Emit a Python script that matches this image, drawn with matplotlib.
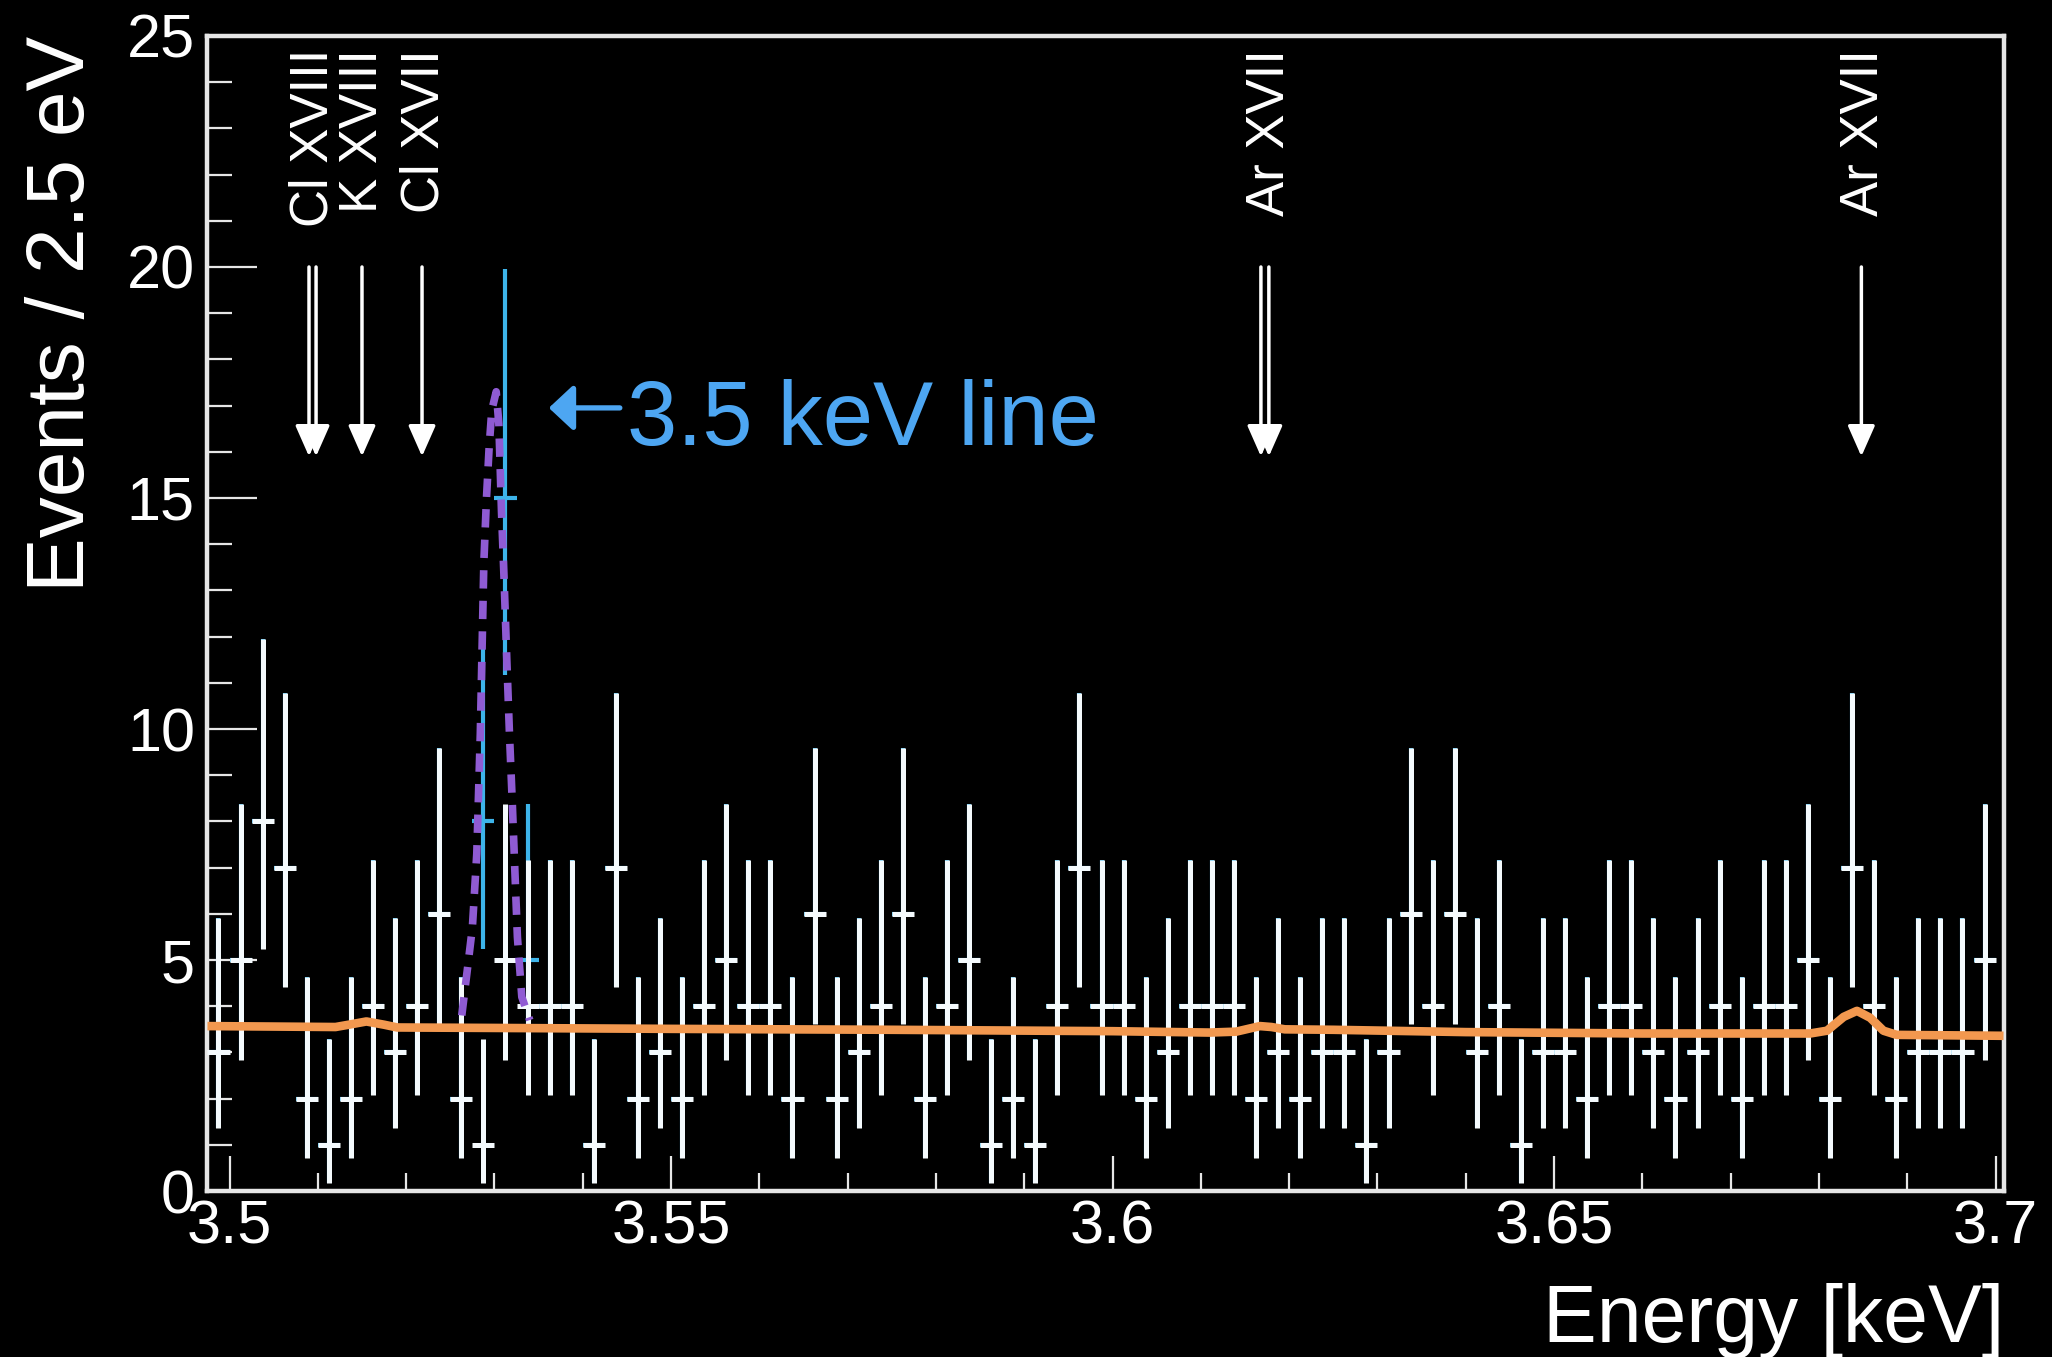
import math
import numpy as np
import matplotlib
matplotlib.use("Agg")
import matplotlib.pyplot as plt
from matplotlib.ticker import MultipleLocator, FormatStrFormatter

plt.rcParams['font.family'] = ['Liberation Sans', 'DejaVu Sans']

# ---------------- data ----------------
bin_low = 3.4975          # keV, lower edge of the first bin
bin_width = 0.0025        # keV (2.5 eV)
counts = [3, 5, 8, 7, 2, 1, 2, 4, 3, 4,
          6, 2, 1, 5, 4, 4, 4, 1, 7, 2,
          3, 2, 4, 5, 4, 4, 2, 6, 2, 3,
          4, 6, 2, 4, 5, 1, 2, 1, 4, 7,
          4, 4, 2, 3, 4, 4, 4, 2, 3, 2,
          3, 3, 1, 3, 6, 4, 6, 3, 4, 1,
          3, 3, 2, 4, 4, 3, 2, 3, 4, 2,
          4, 4, 5, 2, 7, 4, 2, 3, 3, 3,
          5]
# bins where the highlighted (cyan) histogram differs from the data
cyan_bins = [12, 13, 14]
cyan_counts = [8, 15, 5]

# continuum + line model (orange)
model_x = [3.4975, 3.505, 3.512, 3.5135, 3.5155, 3.5175, 3.519, 3.530, 3.550,
           3.575, 3.600, 3.611, 3.614, 3.6167, 3.6180, 3.6195, 3.625, 3.640,
           3.660, 3.679, 3.6809, 3.6828, 3.6843, 3.6858, 3.6873, 3.6888, 3.7009]
model_y = [3.57, 3.56, 3.55, 3.60, 3.67, 3.60, 3.54, 3.53, 3.51,
           3.49, 3.46, 3.43, 3.45, 3.57, 3.55, 3.50, 3.49, 3.44,
           3.41, 3.41, 3.47, 3.77, 3.90, 3.75, 3.47, 3.38, 3.36]

# 3.5 keV line model (purple dashed)
line_x = [3.5263, 3.5270, 3.5275, 3.5280, 3.5284, 3.5288, 3.5291, 3.5294,
          3.5297, 3.5302, 3.5305, 3.5308, 3.5311, 3.5314, 3.5317, 3.5320,
          3.5323, 3.5326, 3.5331, 3.5340]
line_y = [3.8, 4.9, 5.7, 7.3, 9.9, 13.6, 15.0, 16.1,
          16.9, 17.3, 16.6, 14.7, 13.2, 11.5, 9.9, 8.5,
          7.0, 5.5, 4.2, 3.7]

# known emission lines (arrows)
arrow_x = [3.5090, 3.5098, 3.5150, 3.5218, 3.6168, 3.6177, 3.6848]
label_text = ['Cl XVIII', 'K XVIII', 'Cl XVII', 'Ar XVII', 'Ar XVII']
label_x = [3.5095, 3.5151, 3.5221, 3.6178, 3.6851]

# ---------------- helpers ----------------
def pois_cdf(k, mu):
    s, term = 0.0, math.exp(-mu)
    for i in range(k + 1):
        s += term
        term *= mu / (i + 1)
    return s

def garwood(n, alpha=0.158655):
    def bis(f, a, b):
        for _ in range(80):
            m = 0.5 * (a + b)
            if f(m) > 0:
                a = m
            else:
                b = m
        return 0.5 * (a + b)
    lo = 0.0 if n == 0 else bis(lambda mu: pois_cdf(n - 1, mu) - (1 - alpha), 0.0, n)
    hi = bis(lambda mu: pois_cdf(n, mu) - alpha, float(n), n + 10 * math.sqrt(n + 1) + 10)
    return lo, hi

counts = np.array(counts)
centers = bin_low + bin_width * (np.arange(len(counts)) + 0.5)
cyan = counts.copy()
for b, v in zip(cyan_bins, cyan_counts):
    cyan[b] = v

def errs(vals):
    lo, hi = [], []
    for n in vals:
        l, h = garwood(int(n))
        lo.append(n - l)
        hi.append(h - n)
    return np.array([lo, hi])

# ---------------- figure ----------------
fig = plt.figure(figsize=(20.52, 13.57), dpi=100, facecolor='black')
ax = fig.add_axes([0.1011, 0.1223, 0.9766 - 0.1011, 0.9735 - 0.1223])
ax.set_facecolor('black')

ax.errorbar(centers, cyan, xerr=bin_width / 2, yerr=errs(cyan), fmt='none',
            ecolor='#3db4ea', elinewidth=3.0, capsize=0, zorder=2)
ax.errorbar(centers, counts, xerr=bin_width / 2, yerr=errs(counts), fmt='none',
            ecolor='#f4fafd', elinewidth=3.6, capsize=0, zorder=3)
ax.plot(model_x, model_y, color='#f2984f', lw=6.2, solid_capstyle='butt', zorder=4)
ax.plot(line_x, line_y, color='#8f5bd3', lw=5.5, dashes=(2.4, 1.6), zorder=5)

for x in arrow_x:
    ax.annotate('', xy=(x, 15.9), xytext=(x, 20.0),
                arrowprops=dict(arrowstyle='-|>,head_length=0.95,head_width=0.42',
                                color='white', lw=2.5, shrinkA=0, shrinkB=0,
                                mutation_scale=20), zorder=6)
for t, x in zip(label_text, label_x):
    ax.text(x, 24.72, t, rotation=90, ha='center', va='top', color='white',
            fontsize=38, zorder=6)

# "<- 3.5 keV line" annotation
blue = '#4da6f2'
ax.annotate('', xy=(3.53616, 16.95), xytext=(3.54420, 16.95),
            arrowprops=dict(arrowstyle='-|>,head_length=0.75,head_width=0.7',
                            color=blue, lw=3.8, shrinkA=0, shrinkB=0,
                            mutation_scale=20), zorder=6)
ax.text(3.5450, 16.15, '3.5 keV line', color=blue,
        fontsize=65, ha='left', va='baseline', zorder=6)

ax.set_xlim(3.4975, 3.70095)
ax.set_ylim(0, 25)
ax.xaxis.set_major_locator(MultipleLocator(0.05))
ax.xaxis.set_minor_locator(MultipleLocator(0.01))
ax.yaxis.set_major_locator(MultipleLocator(5))
ax.yaxis.set_minor_locator(MultipleLocator(1))
ax.xaxis.set_major_formatter(FormatStrFormatter('%g'))
ax.yaxis.set_major_formatter(FormatStrFormatter('%g'))

for s in ax.spines.values():
    s.set_visible(True)
    s.set_color('#e6e6e6')
    s.set_linewidth(3.2)

ax.tick_params(axis='both', which='both', direction='in', colors='#e6e6e6',
               labelcolor='white', width=1.6, top=False, right=False)
ax.tick_params(axis='y', which='major', length=36, pad=9, labelsize=44)
ax.tick_params(axis='y', which='minor', length=18)
ax.tick_params(axis='x', which='major', length=25, pad=6, labelsize=44)
ax.tick_params(axis='x', which='minor', length=13)

fig.text(0.9766, 0.011, 'Energy [keV]', color='white', fontsize=58,
         ha='right', va='baseline')
fig.text(0.0305, 0.9735, 'Events / 2.5 eV', color='white', fontsize=59,
         rotation=90, ha='center', va='top')

fig.savefig('out.png', dpi=100, facecolor='black')
